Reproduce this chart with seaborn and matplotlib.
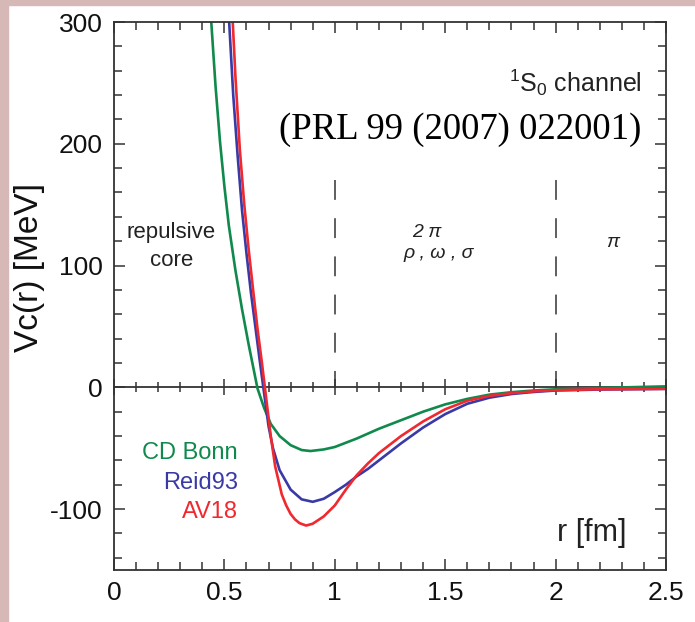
import matplotlib
matplotlib.use("Agg")
import matplotlib.pyplot as plt
import pandas as pd
import seaborn as sns
from matplotlib.patches import Rectangle
from matplotlib.ticker import MultipleLocator

# central potential V_C(r) in the 1S0 channel
r_cdbonn = [0.435, 0.46, 0.48, 0.50, 0.52, 0.55, 0.58, 0.61, 0.65, 0.68, 0.71, 0.75,
            0.80, 0.85, 0.89, 0.95, 1.00, 1.10, 1.20, 1.30, 1.40, 1.50, 1.60, 1.70,
            1.80, 1.90, 2.00, 2.20, 2.50]
v_cdbonn = [315, 247, 202, 165, 133, 96, 64, 35, -1, -17, -30, -40,
            -47.5, -51.5, -52.3, -51, -49, -42, -34, -27, -20, -14, -9.5, -6,
            -4, -2.6, -1.6, -0.5, 0.8]

r_reid93 = [0.52, 0.54, 0.56, 0.58, 0.60, 0.62, 0.64, 0.66, 0.68, 0.70, 0.72, 0.75,
            0.80, 0.85, 0.90, 0.95, 1.00, 1.05, 1.10, 1.15, 1.20, 1.30, 1.40, 1.50,
            1.60, 1.70, 1.80, 1.90, 2.00, 2.20, 2.50]
v_reid93 = [305, 240, 190, 145, 110, 78, 50, 22, -5, -32, -50, -68,
            -84, -92, -94, -91.5, -86, -80, -73, -67, -60, -46, -33, -22,
            -13.5, -8.5, -5.5, -3.8, -2.6, -1.8, -1.3]

r_av18 = [0.535, 0.55, 0.57, 0.59, 0.61, 0.63, 0.65, 0.67, 0.69, 0.71, 0.73, 0.76,
          0.78, 0.80, 0.82, 0.84, 0.87, 0.90, 0.95, 1.00, 1.05, 1.10, 1.15, 1.20,
          1.30, 1.40, 1.50, 1.60, 1.70, 1.80, 1.90, 2.00, 2.20, 2.50]
v_av18 = [310, 255, 195, 150, 113, 80, 48, 20, -10, -40, -65, -88,
          -97, -104, -108.5, -111.5, -113.5, -112, -106, -97, -84, -72, -62.5, -54,
          -40, -28, -18, -11, -7, -4.8, -3.3, -2.3, -1.6, -1.2]

models = ["CD Bonn", "Reid93", "AV18"]
colors = {"CD Bonn": "#0f8a4c", "Reid93": "#3a3aa6", "AV18": "#f0282f"}

x_ticks = [0, 0.5, 1, 1.5, 2, 2.5]
x_ticklabels = ["0", "0.5", "1", "1.5", "2", "2.5"]
y_ticks = [-100, 0, 100, 200, 300]
y_ticklabels = ["-100", "0", "100", "200", "300"]
boundaries = [1.0, 2.0]

df = pd.concat([
    pd.DataFrame({"r": r_cdbonn, "V": v_cdbonn, "model": "CD Bonn"}),
    pd.DataFrame({"r": r_reid93, "V": v_reid93, "model": "Reid93"}),
    pd.DataFrame({"r": r_av18, "V": v_av18, "model": "AV18"}),
], ignore_index=True)

sns.set_style("ticks")
plt.rcParams["font.family"] = ["Liberation Sans", "DejaVu Sans"]
plt.rcParams["mathtext.fontset"] = "custom"
plt.rcParams["mathtext.rm"] = "Liberation Sans"
plt.rcParams["mathtext.it"] = "Liberation Sans:italic"
plt.rcParams["mathtext.default"] = "rm"

fig = plt.figure(figsize=(6.95, 6.22), dpi=100)
fig.patch.set_facecolor("white")
# pinkish frame of the screenshot
fig.patches.append(Rectangle((0, 0), 8 / 695, 1, transform=fig.transFigure,
                             color="#d6b9b6", zorder=0))
fig.patches.append(Rectangle((0, 1 - 5 / 622), 1, 5 / 622, transform=fig.transFigure,
                             color="#d6b9b6", zorder=0))

ax = fig.add_axes([114 / 695, 52 / 622, 552 / 695, 548 / 622])
sns.lineplot(data=df, x="r", y="V", hue="model", hue_order=models, palette=colors,
             estimator=None, sort=False, lw=1.9, legend=False, ax=ax)

ax.set_xlim(0, 2.5)
ax.set_ylim(-150, 300)
ax.set_xticks(x_ticks)
ax.set_xticklabels(x_ticklabels)
ax.set_yticks(y_ticks)
ax.set_yticklabels(y_ticklabels)
ax.xaxis.set_minor_locator(MultipleLocator(0.1))
ax.yaxis.set_minor_locator(MultipleLocator(20))
ax.tick_params(which="both", direction="in", top=True, right=True,
               color="#333333", width=1.1, labelsize=19, labelcolor="#111111")
ax.tick_params(which="major", length=8, pad=8)
ax.tick_params(which="minor", length=5.5)
for s in ax.spines.values():
    s.set_color("#333333")
    s.set_linewidth(1.3)

# zero line with ticks across it
zero = ax.secondary_xaxis(150 / 450)
zero.set_xticks(x_ticks)
zero.set_xticklabels([])
zero.xaxis.set_minor_locator(MultipleLocator(0.1))
zero.tick_params(which="both", direction="inout", color="#333333", width=1.1)
zero.tick_params(which="major", length=11)
zero.tick_params(which="minor", length=7)
zero.spines["bottom"].set_color("#333333")
zero.spines["bottom"].set_linewidth(1.3)

ax.vlines(boundaries, 170, 0, colors="#333333", linestyles=(0, (13, 12)), lw=1.1)

ax.set_xlabel("")
ax.set_ylabel("")
fig.text(30 / 695, 1 - 268 / 622, "Vc(r) [MeV]", rotation=90, ha="center",
         va="center", fontsize=24, color="#111111")

ax.text(2.39, 243, r"$^1$S$_0$ channel", ha="right", va="baseline",
        fontsize=18, color="#222222")
ax.text(2.39, 204, "(PRL 99 (2007) 022001)", ha="right", va="baseline",
        fontsize=26.5, family="Liberation Serif", color="black")
ax.text(0.26, 123, "repulsive", ha="center", va="baseline", fontsize=16,
        color="#222222")
ax.text(0.26, 100, "core", ha="center", va="baseline", fontsize=16,
        color="#222222")
ax.text(1.35, 127, "2 π", ha="left", va="center", fontsize=14,
        color="#222222", style="italic")
ax.text(1.31, 110, "ρ , ω , σ", ha="left", va="center", fontsize=14,
        color="#222222", style="italic")
ax.text(2.26, 119, "π", ha="center", va="center", fontsize=14,
        color="#222222", style="italic")
ax.text(2.32, -120, "r [fm]", ha="right", va="center", fontsize=22,
        color="#222222")

legend_y = [-54, -78.6, -102]
for name, y in zip(models, legend_y):
    ax.text(0.56, y, name, ha="right", va="center", fontsize=17,
            color=colors[name])

fig.savefig("out.png", dpi=100)
plt.close(fig)
